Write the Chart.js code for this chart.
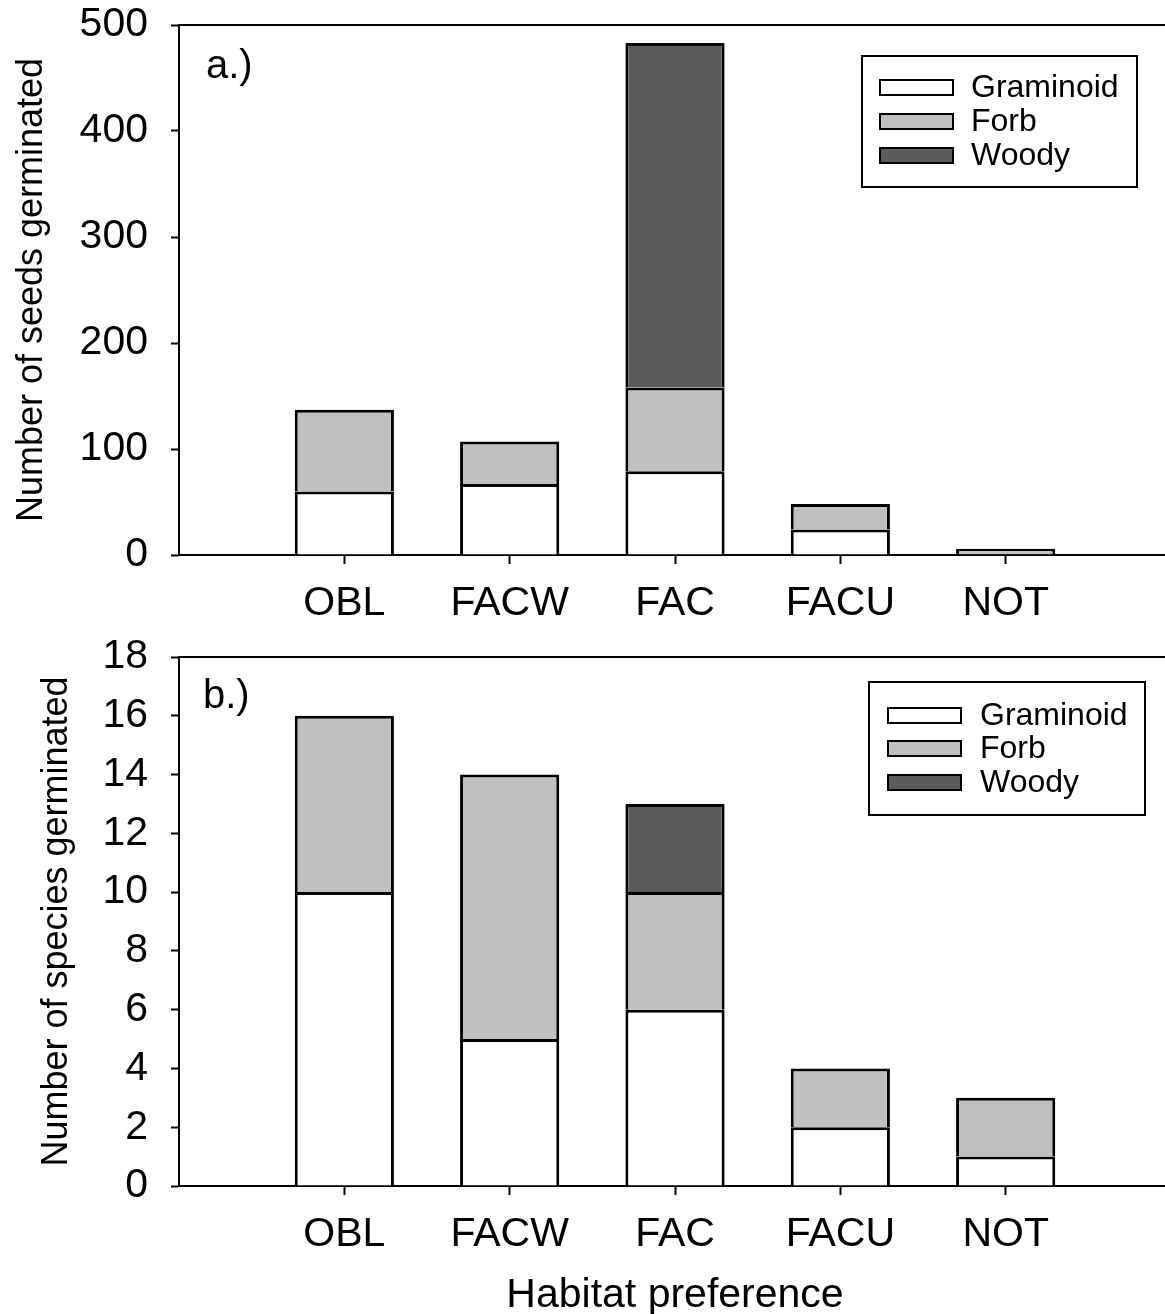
<!DOCTYPE html>
<html>
<head>
<meta charset="utf-8">
<script src="https://cdn.jsdelivr.net/npm/chart.js@4.4.0/dist/chart.umd.min.js"></script>
<style>
html, body { margin: 0; background: #fff; overflow: hidden; width: 1165px; height: 1314px; }
#wrapA { position: absolute; left: 0; top: 0; width: 1171px; height: 630px; }
#wrapB { position: absolute; left: 0; top: 630px; width: 1171px; height: 684px; }
</style>
</head>
<body>
<div id="wrapA"><canvas id="chartA"></canvas></div>
<div id="wrapB"><canvas id="chartB"></canvas></div>
<script>
// Données
const habitats = ['OBL', 'FACW', 'FAC', 'FACU', 'NOT'];
const groups = ['Graminoid', 'Forb', 'Woody'];
const groupColors = ['#ffffff', '#c0c0c0', '#5b5b5b'];

const seedsGraminoid = [60, 67, 79, 24, 1];
const seedsForb = [77, 40, 79, 24, 5];
const seedsWoody = [0, 0, 325, 0, 0];
const seedTicks = [0, 100, 200, 300, 400, 500];

const speciesGraminoid = [10, 5, 6, 2, 1];
const speciesForb = [6, 9, 4, 2, 2];
const speciesWoody = [0, 0, 3, 0, 0];
const speciesTicks = [0, 2, 4, 6, 8, 10, 12, 14, 16, 18];

const FONT = '"Liberation Sans", Arial, sans-serif';

// une case vide de chaque côté, comme sur l'original
const paddedLabels = [''].concat(habitats, ['']);
function pad(values) {
    return [null].concat(values.map(v => (v === 0 ? null : v)), [null]);
}

// Ligne du haut, étiquette du panneau et légende encadrée
const framePlugin = {
    id: 'frame',
    afterDraw(chart, args, opts) {
        const ctx = chart.ctx;
        const area = chart.chartArea;
        ctx.save();
        ctx.strokeStyle = '#000';
        ctx.lineWidth = 2;
        ctx.beginPath();
        ctx.moveTo(area.left - 1, area.top);
        ctx.lineTo(area.right, area.top);
        ctx.stroke();

        ctx.fillStyle = '#000';
        ctx.font = '40px ' + FONT;
        ctx.textBaseline = 'middle';
        ctx.textAlign = 'left';
        ctx.fillText(opts.panel, opts.panelX, opts.panelY);

        const lg = opts.legend;
        ctx.lineWidth = 2;
        ctx.strokeRect(lg.x, lg.y, lg.w, lg.h);
        ctx.font = '32px ' + FONT;
        chart.data.datasets.forEach((ds, i) => {
            const cy = lg.rowY[i];
            ctx.fillStyle = ds.backgroundColor;
            ctx.fillRect(lg.swatchX, cy - 7, 73, 15);
            ctx.strokeStyle = '#000';
            ctx.strokeRect(lg.swatchX, cy - 7, 73, 15);
            ctx.fillStyle = '#000';
            ctx.fillText(ds.label, lg.textX, cy + 1);
        });
        ctx.restore();
    }
};

function makeChart(canvasId, series, ticks, yTitle, cfg) {
    const datasets = groups.map((g, i) => ({
        label: g,
        data: pad(series[i]),
        backgroundColor: groupColors[i],
        borderColor: '#000',
        borderWidth: 3,
        categoryPercentage: 1,
        barPercentage: 0.6
    }));
    const last = paddedLabels.length - 1;
    return new Chart(document.getElementById(canvasId), {
        type: 'bar',
        data: { labels: paddedLabels, datasets: datasets },
        options: {
            responsive: true,
            maintainAspectRatio: false,
            animation: false,
            layout: { padding: { top: cfg.padTop, left: 0, right: 0, bottom: 0 } },
            plugins: {
                legend: { display: false },
                tooltip: { enabled: false },
                frame: cfg.frame
            },
            scales: {
                x: {
                    stacked: true,
                    offset: false,
                    grid: {
                        offset: false,
                        drawOnChartArea: false,
                        tickLength: 9,
                        tickWidth: 2,
                        tickColor: c => (c.index === 0 || c.index === last ? 'rgba(0,0,0,0)' : '#000')
                    },
                    border: { color: '#000', width: 2 },
                    ticks: {
                        color: '#000',
                        font: { family: FONT, size: 41 },
                        padding: 15,
                        maxRotation: 0,
                        autoSkip: false
                    },
                    title: cfg.xTitle,
                    afterFit: s => { s.height = cfg.xHeight; s.paddingLeft = 0; s.paddingRight = 0; }
                },
                y: {
                    stacked: true,
                    min: ticks[0],
                    max: ticks[ticks.length - 1],
                    afterBuildTicks: s => { s.ticks = ticks.map(v => ({ value: v })); },
                    grid: { drawOnChartArea: false, tickLength: 8, tickWidth: 2, tickColor: '#000' },
                    border: { color: '#000', width: 2 },
                    ticks: { color: '#000', font: { family: FONT, size: 41 }, padding: 23 },
                    title: {
                        display: true,
                        text: yTitle,
                        color: '#000',
                        font: { family: FONT, size: 36 },
                        padding: { top: cfg.yTitlePad, bottom: 0 }
                    },
                    afterFit: s => { s.width = 179; s.paddingTop = 0; s.paddingBottom = 0; }
                }
            }
        },
        plugins: [framePlugin]
    });
}

makeChart('chartA', [seedsGraminoid, seedsForb, seedsWoody], seedTicks, 'Number of seeds germinated', {
    padTop: 25,
    xHeight: 75,
    yTitlePad: 10,
    xTitle: { display: false },
    frame: {
        panel: 'a.)', panelX: 206, panelY: 67,
        legend: { x: 862, y: 56, w: 275, h: 131, swatchX: 880, textX: 971, rowY: [87, 121, 155] }
    }
});

makeChart('chartB', [speciesGraminoid, speciesForb, speciesWoody], speciesTicks, 'Number of species germinated', {
    padTop: 27,
    xHeight: 128,
    yTitlePad: 35,
    xTitle: {
        display: true,
        text: 'Habitat preference',
        color: '#000',
        font: { family: FONT, size: 41, lineHeight: 1 },
        padding: { top: 0, bottom: -2 }
    },
    frame: {
        panel: 'b.)', panelX: 203, panelY: 67,
        legend: { x: 869, y: 52, w: 276, h: 133, swatchX: 888, textX: 980, rowY: [85, 118, 152] }
    }
});
</script>
</body>
</html>
